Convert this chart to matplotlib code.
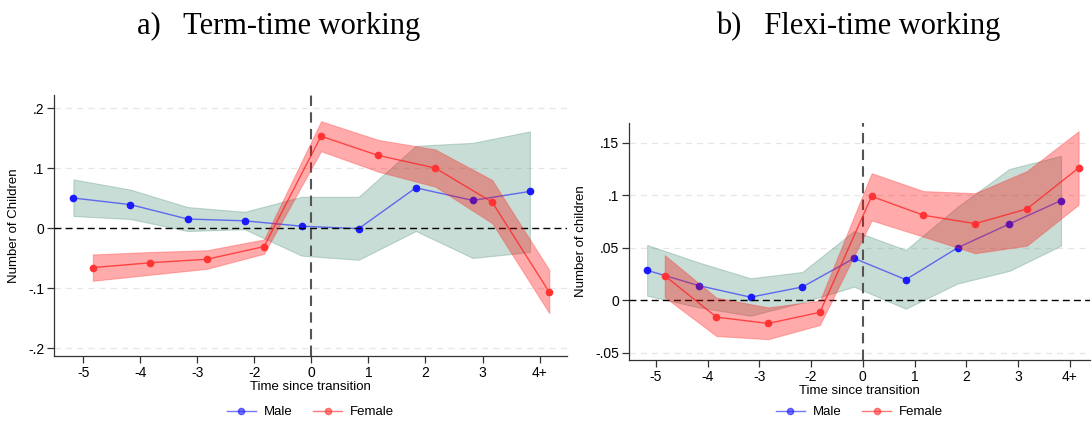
import matplotlib
matplotlib.use("Agg")
import matplotlib.pyplot as plt
from matplotlib.lines import Line2D
import numpy as np

periods = ['-5', '-4', '-3', '-2', '0', '1', '2', '3', '4+']

# Panel a: Term-time working
a_male = [0.050, 0.039, 0.015, 0.012, 0.003, -0.001, 0.067, 0.046, 0.061]
a_male_lo = [0.020, 0.015, -0.005, -0.002, -0.046, -0.053, -0.005, -0.050, -0.040]
a_male_hi = [0.081, 0.064, 0.035, 0.027, 0.052, 0.052, 0.137, 0.142, 0.161]
a_fem = [-0.066, -0.058, -0.052, -0.031, 0.153, 0.121, 0.100, 0.043, -0.107]
a_fem_lo = [-0.088, -0.078, -0.068, -0.043, 0.128, 0.094, 0.069, 0.008, -0.142]
a_fem_hi = [-0.044, -0.040, -0.037, -0.019, 0.178, 0.147, 0.131, 0.080, -0.070]

# Panel b: Flexi-time working
b_male = [0.0286, 0.014, 0.003, 0.0127, 0.040, 0.0197, 0.050, 0.0727, 0.095]
b_male_lo = [0.0044, -0.0067, -0.0146, -0.002, 0.013, -0.008, 0.016, 0.028, 0.052]
b_male_hi = [0.0527, 0.036, 0.021, 0.027, 0.066, 0.048, 0.089, 0.125, 0.1375]
b_fem = [0.0235, -0.016, -0.022, -0.0114, 0.099, 0.081, 0.073, 0.087, 0.126]
b_fem_lo = [0.003, -0.034, -0.037, -0.0235, 0.076, 0.0606, 0.0448, 0.052, 0.091]
b_fem_hi = [0.043, 0.0025, -0.0067, -0.0003, 0.121, 0.104, 0.102, 0.123, 0.161]

a_yticks = [-0.2, -0.1, 0.0, 0.1, 0.2]
a_ylabels = ['-.2', '-.1', '0', '.1', '.2']
b_yticks = [-0.05, 0.0, 0.05, 0.1, 0.15]
b_ylabels = ['-.05', '0', '.05', '.1', '.15']

plt.rcParams['font.family'] = ['Liberation Sans', 'DejaVu Sans']

W, H = 1092, 422
fig = plt.figure(figsize=(W / 100, H / 100), dpi=100)

def px_axes(l, r, t, b):
    return fig.add_axes([l / W, 1 - b / H, (r - l) / W, (b - t) / H])

ax_a = px_axes(54, 567, 95, 356)
ax_b = px_axes(629, 1090, 123, 360)

GREEN = '#5f9e88'
RED = '#ff2020'
BLUE = '#1a1aff'
off = 0.17

def draw(ax, male, mlo, mhi, fem, flo, fhi, yticks, ylabels, ylabel, xlim, ylim, leg_y):
    pos = np.arange(len(periods))
    xm = pos - off
    xf = pos + off
    ax.set_xlim(*xlim)
    ax.set_ylim(*ylim)
    for yt in yticks:
        if yt != 0:
            ax.axhline(yt, color='#e6e6e6', lw=0.9, ls=(0, (5, 4)), zorder=0)
    ax.fill_between(xm, mlo, mhi, facecolor=GREEN, alpha=0.35,
                    edgecolor=(0.37, 0.6, 0.52, 0.6), lw=0.8, zorder=1)
    ax.plot(xm, male, color=BLUE, alpha=0.6, lw=1.0, zorder=2)
    ax.plot(xm, male, ls='none', marker='o', ms=4.5, color=BLUE, mec=BLUE, zorder=2)
    ax.axhline(0, color='black', lw=1.0, ls=(0, (5, 3)), zorder=3)
    ax.axvline(4, color='#555555', lw=1.5, ls=(0, (5, 3)), zorder=3)
    ax.fill_between(xf, flo, fhi, facecolor=(1, 0, 0), alpha=0.33,
                    edgecolor=(1, 0.2, 0.2, 0.6), lw=0.8, zorder=4)
    ax.plot(xf, fem, color=RED, alpha=0.75, lw=1.0, zorder=5)
    ax.plot(xf, fem, ls='none', marker='o', ms=4.5, color='#ff3333', mec='#ff3333', zorder=5)

    ax.set_xticks(pos)
    ax.set_xticklabels(periods, fontsize=10)
    ax.set_yticks(yticks)
    ax.set_yticklabels(ylabels, fontsize=10)
    ax.tick_params(axis='both', direction='out', length=5, width=0.9, color='#333333', pad=2)
    for s in ['top', 'right']:
        ax.spines[s].set_visible(False)
    for s in ['left', 'bottom']:
        ax.spines[s].set_color('#333333')
        ax.spines[s].set_linewidth(0.9)
    ax.set_ylabel(ylabel, fontsize=9.5, labelpad=6)
    ax.set_xlabel('Time since transition', fontsize=9.5, labelpad=1)

    handles = [Line2D([], [], color=BLUE, alpha=0.6, lw=1.0, marker='o', ms=4.5,
                      mfc=BLUE, mec=BLUE),
               Line2D([], [], color=RED, alpha=0.6, lw=1.0, marker='o', ms=4.5,
                      mfc='#ff3333', mec='#ff3333')]
    ax.legend(handles, ['Male', 'Female'], loc='center', bbox_to_anchor=(0.5, leg_y),
              ncol=2, frameon=False, fontsize=9.5, handlelength=2.2,
              columnspacing=1.6, handletextpad=0.6)

draw(ax_a, a_male, a_male_lo, a_male_hi, a_fem, a_fem_lo, a_fem_hi,
     a_yticks, a_ylabels, 'Number of Children', (-0.51, 8.48), (-0.2133, 0.2217),
     (356 - 412) / (356 - 95))
draw(ax_b, b_male, b_male_lo, b_male_hi, b_fem, b_fem_lo, b_fem_hi,
     b_yticks, b_ylabels, 'Number of children', (-0.52, 8.39), (-0.0568, 0.1688),
     (360 - 412) / (360 - 123))

fig.text(279 / W, 1 - 26 / H, 'a)   Term-time working', fontsize=22,
         family=['Liberation Serif', 'DejaVu Serif'], ha='center', va='center')
fig.text(858 / W, 1 - 26 / H, 'b)   Flexi-time working', fontsize=22,
         family=['Liberation Serif', 'DejaVu Serif'], ha='center', va='center')

fig.savefig('out.png', dpi=100)
